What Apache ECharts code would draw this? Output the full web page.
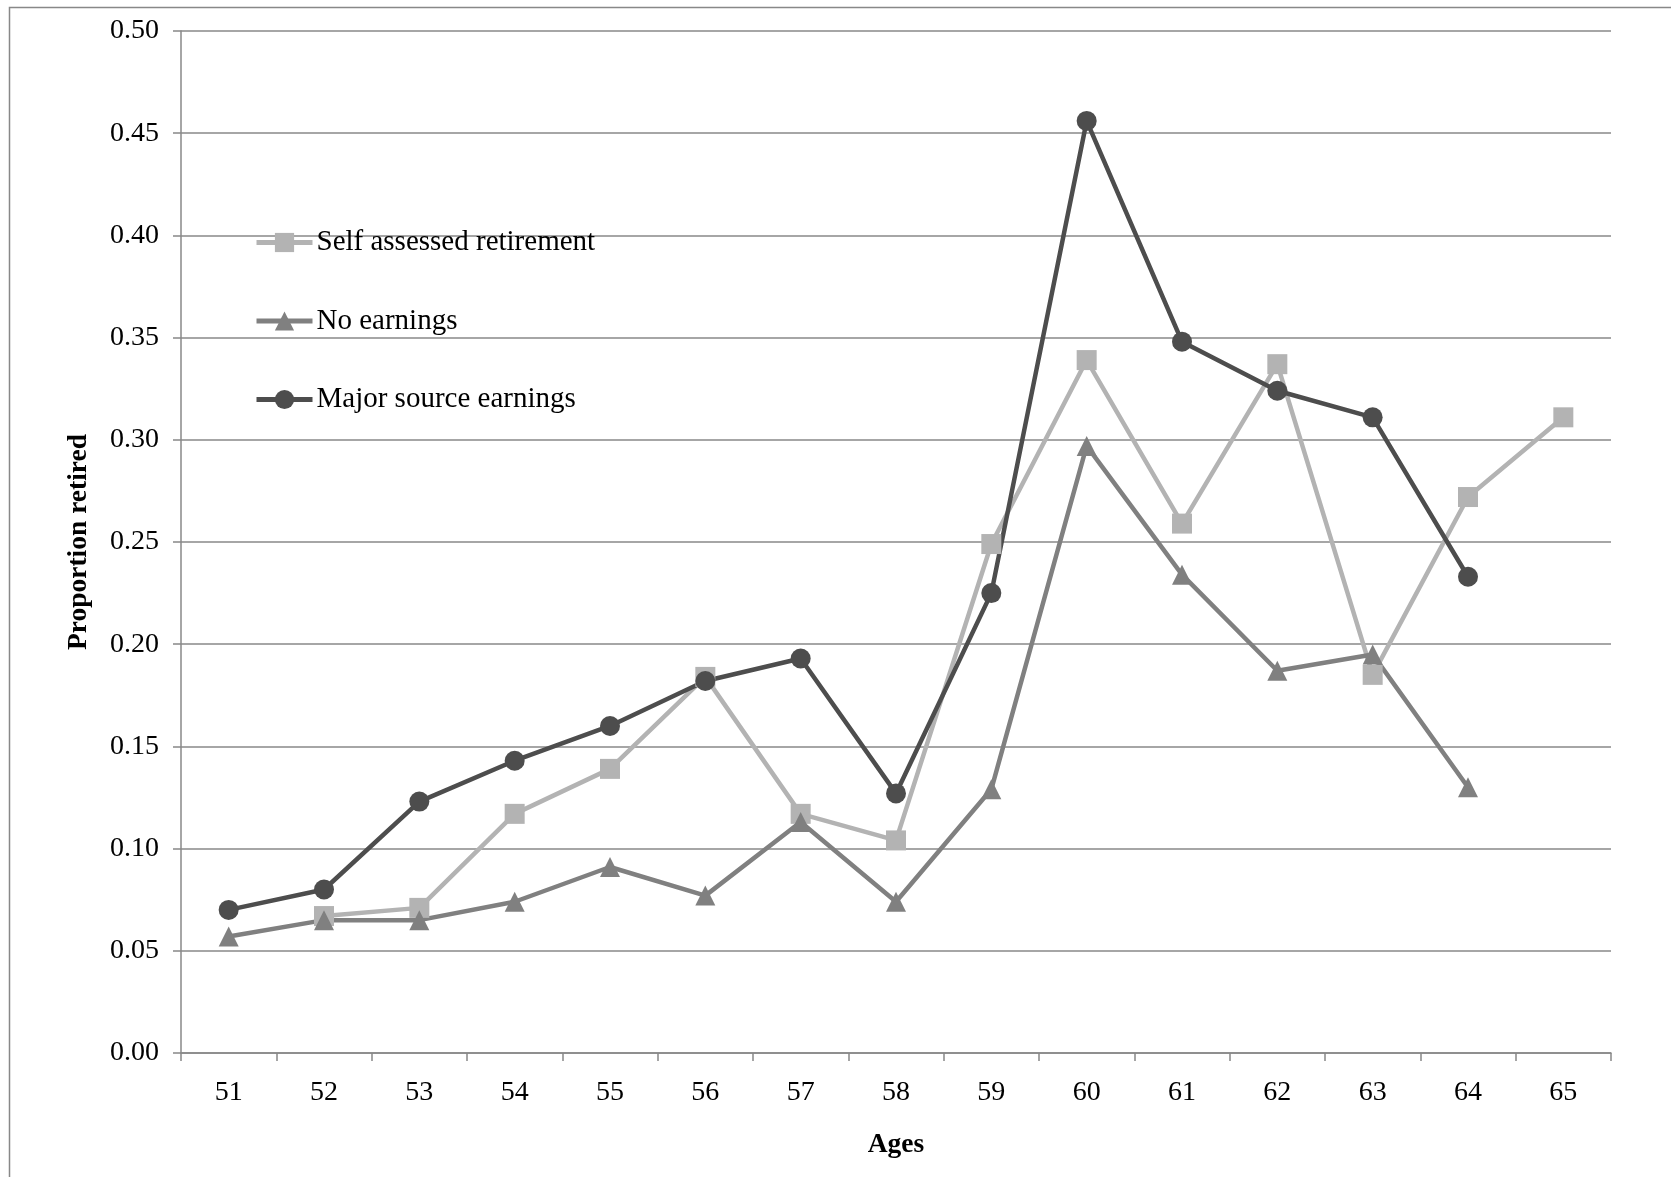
<!DOCTYPE html>
<html>
<head>
<meta charset="utf-8">
<script src="https://cdn.jsdelivr.net/npm/echarts@6/dist/echarts.min.js"></script>
<style>html,body{margin:0;padding:0;background:#fff}#c{width:1671px;height:1177px}</style>
</head>
<body>
<div id="c"></div>
<script>
var ages = ['51','52','53','54','55','56','57','58','59','60','61','62','63','64','65'];
var selfAssessed = [null,0.067,0.071,0.117,0.139,0.184,0.117,0.104,0.249,0.339,0.259,0.337,0.185,0.272,0.311];
var noEarnings = [0.057,0.065,0.065,0.074,0.091,0.077,0.113,0.074,0.129,0.297,0.234,0.187,0.195,0.130,null];
var majorSource = [0.070,0.080,0.123,0.143,0.160,0.182,0.193,0.127,0.225,0.456,0.348,0.324,0.311,0.233,null];
var yTicks = {min:0, max:0.5, interval:0.05};

var FONT = '"Liberation Serif","Times New Roman",serif';
var chart = echarts.init(document.getElementById('c'));
function mk(name, data, color, symbol){
  return {name:name, type:'line', data:data, symbol:symbol, symbolSize:20,
    connectNulls:false, lineStyle:{color:color,width:4.5}, itemStyle:{color:color},
    emphasis:{disabled:true}, animation:false};
}
chart.setOption({
  animation:false,
  backgroundColor:'#fff',
  graphic:[{type:'rect', left:7, top:5, shape:{width:1700,height:1200},
    style:{fill:'none', stroke:'#888', lineWidth:1.5}, silent:true}],
  grid:{left:181, right:60, top:31, bottom:124},
  legend:{orient:'vertical', left:249, top:223, itemWidth:56, itemHeight:24, itemGap:49.5,
    lineStyle:{width:5},
    textStyle:{fontFamily:FONT, fontSize:29, color:'#000', lineHeight:29, padding:[0,0,0,-1]},
    data:['Self assessed retirement','No earnings','Major source earnings']},
  xAxis:{type:'category', data:ages, boundaryGap:true,
    name:'Ages', nameLocation:'middle', nameGap:78,
    nameTextStyle:{fontFamily:FONT, fontSize:27.5, fontWeight:'bold', color:'#000'},
    axisLine:{lineStyle:{color:'#888', width:1.5}},
    axisTick:{show:true, length:8, lineStyle:{color:'#888', width:1.5}},
    axisLabel:{fontFamily:FONT, fontSize:28, color:'#000', margin:26},
    splitLine:{show:false}},
  yAxis:{type:'value', min:yTicks.min, max:yTicks.max, interval:yTicks.interval,
    name:'Proportion retired', nameLocation:'middle', nameGap:88,
    nameTextStyle:{fontFamily:FONT, fontSize:27.5, fontWeight:'bold', color:'#000'},
    axisLine:{show:true, lineStyle:{color:'#888', width:1.5}},
    axisTick:{show:true, length:8, lineStyle:{color:'#888', width:1.5}},
    axisLabel:{fontFamily:FONT, fontSize:28, color:'#000', margin:22,
      formatter:function(v){return v.toFixed(2);}},
    splitLine:{show:true, lineStyle:{color:'#888', width:1.5}}},
  series:[
    mk('Self assessed retirement', selfAssessed, '#b3b3b3', 'rect'),
    mk('No earnings', noEarnings, '#808080', 'triangle'),
    mk('Major source earnings', majorSource, '#4d4d4d', 'circle')
  ]
});
</script>
</body>
</html>
